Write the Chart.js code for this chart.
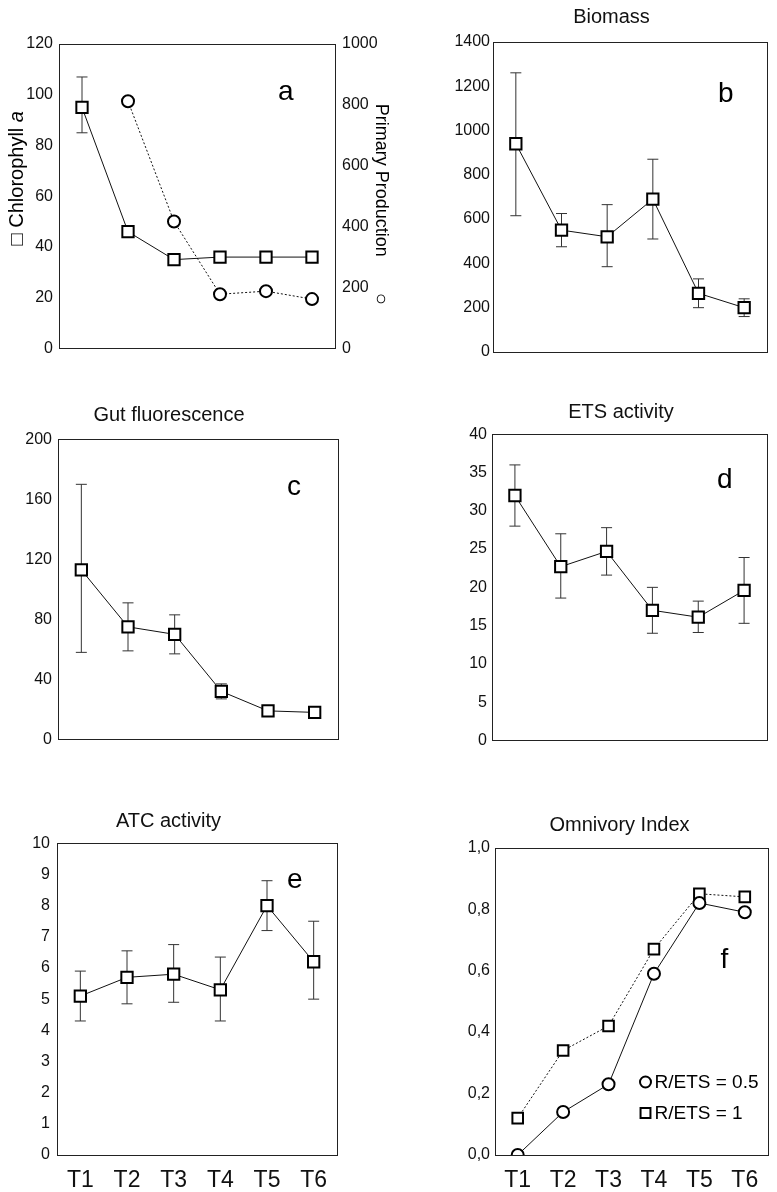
<!DOCTYPE html>
<html>
<head>
<meta charset="utf-8">
<script src="https://cdn.jsdelivr.net/npm/chart.js@4.4.1/dist/chart.umd.min.js"></script>
<style>
  body { margin: 0; background: #fff; width: 777px; height: 1192px; position: relative; overflow: hidden; }
  canvas { position: absolute; }
</style>
</head>
<body>
<canvas id="chartA" width="400" height="365" style="left:0;top:0"></canvas>
<canvas id="chartB" width="326" height="365" style="left:451px;top:0"></canvas>
<canvas id="chartC" width="368" height="365" style="left:0;top:390px"></canvas>
<canvas id="chartD" width="308" height="365" style="left:469px;top:390px"></canvas>
<canvas id="chartE" width="374" height="422" style="left:0;top:770px"></canvas>
<canvas id="chartF" width="310" height="422" style="left:467px;top:770px"></canvas>
<script>
// ---- data ----
const stations = ['T1', 'T2', 'T3', 'T4', 'T5', 'T6'];

const chlaMean = [95, 46, 35, 36, 36, 36];
const chlaLo = [85, null, null, null, null, null];
const chlaHi = [107, null, null, null, null, null];
const primaryProd = [null, 812, 417, 178, 188, 162];

const biomassMean = [940, 550, 520, 690, 265, 200];
const biomassLo = [615, 475, 385, 510, 200, 160];
const biomassHi = [1260, 625, 665, 870, 330, 240];

const gutMean = [113, 75, 70, 32, 19, 18];
const gutLo = [58, 59, 57, 27, 17, 16];
const gutHi = [170, 91, 83, 37, 21, 20];

const etsMean = [32, 22.7, 24.7, 17, 16.1, 19.6];
const etsLo = [28, 18.6, 21.6, 14, 14.1, 15.3];
const etsHi = [36, 27, 27.8, 20, 18.2, 23.9];

const atcMean = [5.1, 5.7, 5.8, 5.3, 8.0, 6.2];
const atcLo = [4.3, 4.85, 4.9, 4.3, 7.2, 5.0];
const atcHi = [5.9, 6.55, 6.75, 6.35, 8.8, 7.5];

const omniHalf = [0.0, 0.14, 0.23, 0.59, 0.82, 0.79];
const omniOne = [0.12, 0.34, 0.42, 0.67, 0.85, 0.84];
const omniTicks = ['0,0', '0,2', '0,4', '0,6', '0,8', '1,0'];

// ---- shared styling ----
const FONT = '"Liberation Sans", Arial, sans-serif';
const tickFont = { family: FONT, size: 16 };

// frame, error bars, panel letter, extra labels
const panelDecor = {
    id: 'panelDecor',
    beforeDatasetsDraw(chart, args, opts) {
        const ctx = chart.ctx;
        (opts.errors || []).forEach(err => {
            const meta = chart.getDatasetMeta(err.dataset);
            const yScale = chart.scales[meta.yAxisID];
            ctx.save();
            ctx.strokeStyle = '#333';
            ctx.lineWidth = 1;
            meta.data.forEach((pt, i) => {
                if (err.lo[i] == null) return;
                const yLo = yScale.getPixelForValue(err.lo[i]);
                const yHi = yScale.getPixelForValue(err.hi[i]);
                ctx.beginPath();
                ctx.moveTo(pt.x, yLo); ctx.lineTo(pt.x, yHi);
                ctx.moveTo(pt.x - 5.5, yLo); ctx.lineTo(pt.x + 5.5, yLo);
                ctx.moveTo(pt.x - 5.5, yHi); ctx.lineTo(pt.x + 5.5, yHi);
                ctx.stroke();
            });
            ctx.restore();
        });
    },
    afterDraw(chart, args, opts) {
        const ctx = chart.ctx, a = chart.chartArea;
        ctx.save();
        // frame
        ctx.strokeStyle = '#222';
        ctx.lineWidth = 1;
        ctx.strokeRect(Math.round(a.left) + 0.5, Math.round(a.top) + 0.5,
            Math.round(a.right - a.left), Math.round(a.bottom - a.top));
        // panel letter
        if (opts.letter) {
            ctx.fillStyle = '#000';
            ctx.font = '28px ' + FONT;
            ctx.textBaseline = 'alphabetic';
            ctx.textAlign = 'left';
            ctx.fillText(opts.letter, a.right - opts.letterDx, a.top + opts.letterDy);
        }
        // rotated axis titles (panel a)
        (opts.sideTitles || []).forEach(t => {
            ctx.save();
            const cx = t.side === 'left' ? a.left + t.dx : a.right + t.dx;
            ctx.translate(cx, (a.top + a.bottom) / 2 + t.dy);
            ctx.rotate(t.side === 'left' ? -Math.PI / 2 : Math.PI / 2);
            ctx.textBaseline = 'middle';
            const fontOf = p => (p.italic ? 'italic ' : '') + (p.size || t.size) + 'px ' + FONT;
            let w = 0;
            t.parts.forEach(p => { ctx.font = fontOf(p); w += (p.gap || 0) + ctx.measureText(p.text).width; });
            let x = -w / 2;
            ctx.fillStyle = '#000';
            ctx.textAlign = 'left';
            t.parts.forEach(p => {
                ctx.font = fontOf(p);
                x += p.gap || 0;
                ctx.fillText(p.text, x, 0);
                x += ctx.measureText(p.text).width;
            });
            ctx.restore();
        });
        // in-plot legend (panel f)
        (opts.legend || []).forEach(item => {
            const x = a.right + item.dx, y = a.bottom + item.dy;
            ctx.strokeStyle = '#000';
            ctx.fillStyle = '#fff';
            ctx.lineWidth = 2;
            Chart.helpers.drawPoint(ctx, { pointStyle: item.style, radius: item.radius, borderWidth: 2 }, x, y);
            ctx.fillStyle = '#000';
            ctx.font = '19px ' + FONT;
            ctx.textAlign = 'left';
            ctx.textBaseline = 'middle';
            ctx.fillText(item.text, x + 9, y + 1);
        });
        ctx.restore();
    }
};

function series(data, opts) {
    return Object.assign({
        data,
        borderColor: '#111',
        borderWidth: 1,
        pointStyle: 'rect',
        pointRadius: 8,
        pointBorderWidth: 2,
        pointBorderColor: '#000',
        pointBackgroundColor: '#fff',
        tension: 0
    }, opts || {});
}

function yAxis(min, max, step, width, extra, pad) {
    return Object.assign({
        position: 'left',
        min, max,
        ticks: {
            stepSize: step, autoSkip: false, font: tickFont, color: '#111',
            padding: pad == null ? 5 : pad,
            callback: v => String(v)
        },
        grid: { display: false, drawTicks: false },
        border: { display: false },
        afterFit(scale) { scale.width = width; }
    }, extra || {});
}

function xAxis(showLabels) {
    return {
        type: 'category',
        offset: true,
        display: showLabels,
        grid: { display: false, drawTicks: false },
        border: { display: false },
        ticks: { font: { family: FONT, size: 23 }, color: '#111', padding: 12, maxRotation: 0 },
        afterFit(scale) { scale.height = showLabels ? 37 : 0; }
    };
}

function titleOpts(text, top, bottom) {
    if (!text) return { display: false };
    return { display: true, text, color: '#111', font: { family: FONT, size: 20, weight: 'normal' }, padding: { top, bottom } };
}

function makePanel(id, cfg) {
    return new Chart(document.getElementById(id), {
        type: 'line',
        data: { labels: stations, datasets: cfg.datasets },
        options: {
            responsive: false,
            animation: false,
            layout: { padding: cfg.padding },
            plugins: {
                legend: { display: false },
                tooltip: { enabled: false },
                title: titleOpts(cfg.title, cfg.titleTop, cfg.titleBottom),
                panelDecor: cfg.decor
            },
            scales: cfg.scales
        },
        plugins: [panelDecor]
    });
}

// a: chlorophyll a + primary production
makePanel('chartA', {
    datasets: [
        series(chlaMean, { yAxisID: 'y', pointRadius: 8 }),
        series(primaryProd, { yAxisID: 'y2', pointStyle: 'circle', pointRadius: 6, borderDash: [2, 2] })
    ],
    padding: { top: 44, bottom: 12, left: 0, right: 0 },
    scales: {
        x: xAxis(false),
        y: yAxis(0, 120, 20, 59, null, 6),
        y2: yAxis(0, 1000, 200, 65, { position: 'right' }, 7)
    },
    decor: {
        errors: [{ dataset: 0, lo: chlaLo, hi: chlaHi }],
        letter: 'a', letterDx: 57, letterDy: 56,
        sideTitles: [
            { side: 'left', dx: -42, dy: -18, size: 20, parts: [{ text: '\u25A1 Chlorophyll ' }, { text: 'a', italic: true }] },
            { side: 'right', dx: 46, dy: 8, size: 18, parts: [{ text: 'Primary Production' }, { text: '\u25CB', gap: 36, size: 20 }] }
        ]
    }
});

// b: biomass
makePanel('chartB', {
    datasets: [series(biomassMean)],
    title: 'Biomass', titleTop: 5.4, titleBottom: 12.4,
    padding: { top: 0, bottom: 13, left: 0, right: 5 },
    scales: { x: xAxis(false), y: yAxis(0, 1400, 200, 42, null, 3) },
    decor: { errors: [{ dataset: 0, lo: biomassLo, hi: biomassHi }], letter: 'b', letterDx: 49, letterDy: 60 }
});

// c: gut fluorescence
makePanel('chartC', {
    datasets: [series(gutMean)],
    title: 'Gut fluorescence', titleTop: 13, titleBottom: 12.3,
    padding: { top: 0, bottom: 10, left: 0, right: 30 },
    scales: { x: xAxis(false), y: yAxis(0, 200, 40, 58, null, 6) },
    decor: { errors: [{ dataset: 0, lo: gutLo, hi: gutHi }], letter: 'c', letterDx: 51, letterDy: 56 }
});

// d: ETS activity
makePanel('chartD', {
    datasets: [series(etsMean)],
    title: 'ETS activity', titleTop: 10, titleBottom: 10.3,
    padding: { top: 0, bottom: 11, left: 0, right: 4 },
    scales: { x: xAxis(false), y: yAxis(0, 40, 5, 23, null, 5) },
    decor: { errors: [{ dataset: 0, lo: etsLo, hi: etsHi }], letter: 'd', letterDx: 50, letterDy: 54 }
});

// e: ATC activity
makePanel('chartE', {
    datasets: [series(atcMean)],
    title: 'ATC activity', titleTop: 39, titleBottom: 10.3,
    padding: { top: 0, bottom: 0, left: 0, right: 37 },
    scales: { x: xAxis(true), y: yAxis(0, 10, 1, 57, null, 7) },
    decor: { errors: [{ dataset: 0, lo: atcLo, hi: atcHi }], letter: 'e', letterDx: 50, letterDy: 45 }
});

// f: omnivory index
makePanel('chartF', {
    datasets: [
        series(omniHalf, { pointStyle: 'circle', pointRadius: 6 }),
        series(omniOne, { pointRadius: 7.5, borderDash: [2, 2] })
    ],
    title: 'Omnivory Index', titleTop: 43, titleBottom: 10.7,
    padding: { top: 0, bottom: 0, left: 0, right: 5 },
    scales: {
        x: xAxis(true),
        y: yAxis(0, 1, 0.2, 28, null, 5)
    },
    decor: {
        letter: 'f', letterDx: 47, letterDy: 120,
        legend: [
            { style: 'circle', radius: 5.5, text: 'R/ETS = 0.5', dx: -122, dy: -73 },
            { style: 'rect', radius: 7, text: 'R/ETS = 1', dx: -122, dy: -42 }
        ]
    }
});

// comma decimals on the omnivory axis
Chart.getChart('chartF').options.scales.y.ticks.callback = (v, i) => omniTicks[i];
Chart.getChart('chartF').update();
</script>
</body>
</html>
